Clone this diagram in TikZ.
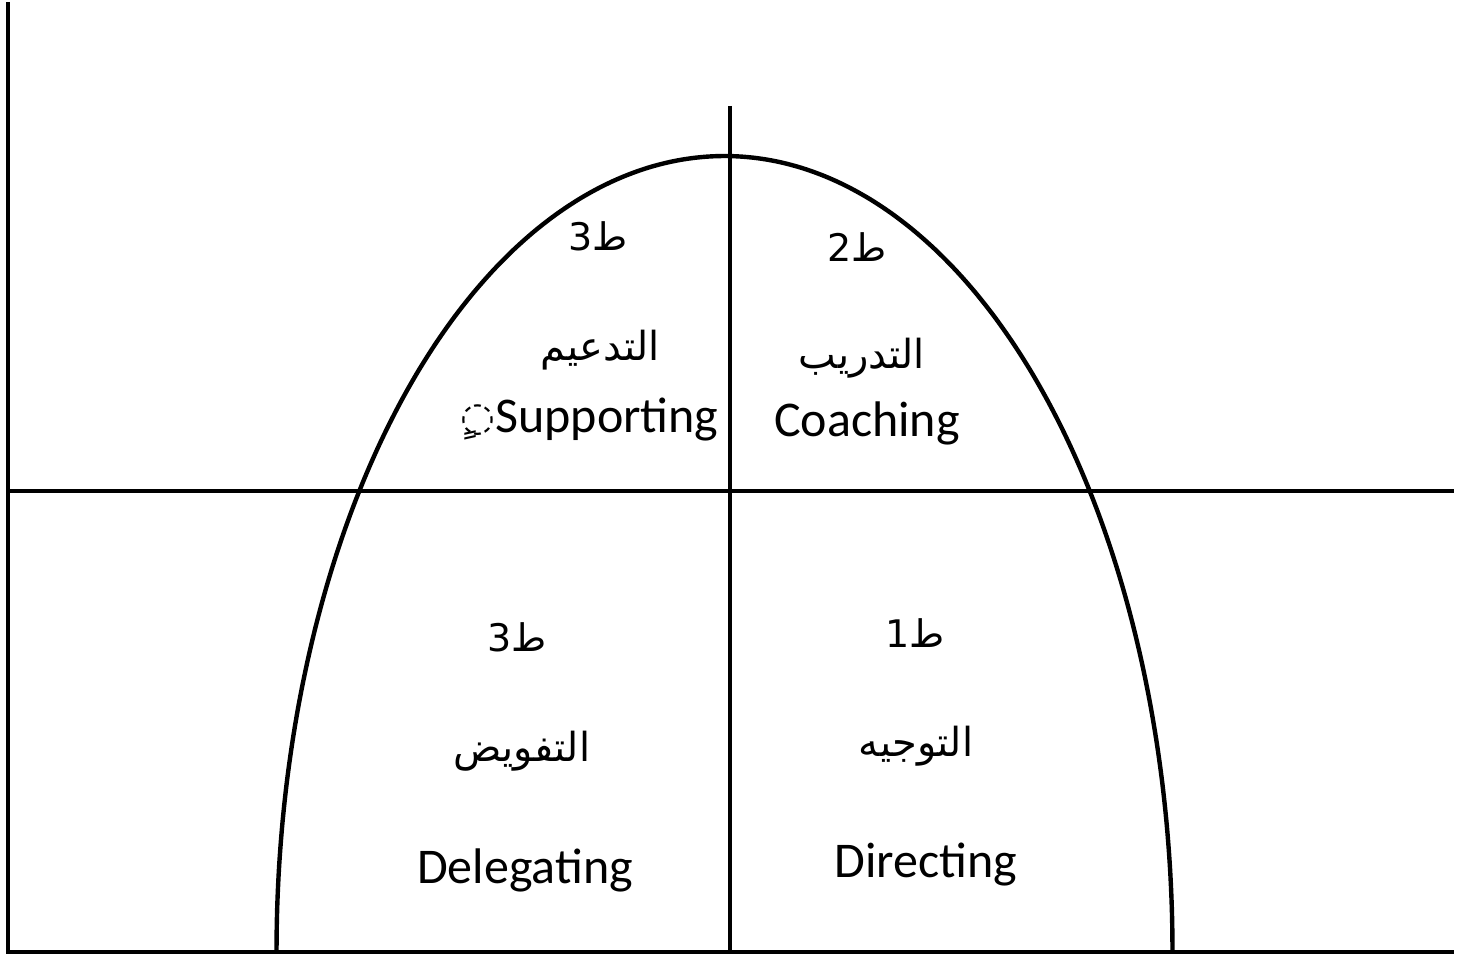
\documentclass[tikz,border=0pt]{standalone}
\usepackage{fontspec}
\setmainfont{Carlito}
\newfontfamily\arabicfont[Script=Arabic]{DejaVu Sans}
\TeXXeTstate=1
\begin{document}
\begin{tikzpicture}[x=0.5pt,y=-0.5pt,
  axis/.style={line width=2pt},
  midline/.style={line width=2pt},
  bell/.style={line width=2.2pt},
  en/.style={font=\fontsize{25}{30}\selectfont, inner sep=0pt},
  ar/.style={font=\fontsize{20}{24}\arabicfont, inner sep=0pt},
  lvl/.style={font=\fontsize{19}{23}\arabicfont, inner sep=0pt}]
\useasboundingbox (0,0) rectangle (1459,956);
% axes
\coordinate (ytop) at (8,2);
\coordinate (orig) at (8,952);
\coordinate (xend) at (1454,952);
\coordinate (mleft) at (8,491);
\coordinate (mright) at (1454,491);
\coordinate (vtop) at (730,106);
\coordinate (vbot) at (730,952);
\draw[axis] (ytop) -- (orig) -- (xend);
\draw[midline] (mleft) -- (mright);
\draw[midline] (vtop) -- (vbot);
% bell curve (half ellipse)
\draw[bell, line join=round] plot[domain=180:0, samples=120, smooth] ({724.5+448*cos(\x)}, {952-796*sin(\x)});
% quadrant labels
\node[lvl] (l3a) at (598,236) {\beginR ط3\endR};
\node[ar]  (a3a) at (600,350) {\beginR التدعيم\endR};
\node[en]  (e3a) at (607,420) {Supporting};
\node[font=\fontsize{20}{24}\arabicfont, inner sep=0pt] (mk) at (478,422) {◌ٍ};
\node[lvl] (l2) at (857,247) {\beginR ط2\endR};
\node[ar]  (a2) at (862,358) {\beginR التدريب\endR};
\node[en]  (e2) at (867,423) {Coaching};
\node[lvl] (l3b) at (517,637) {\beginR ط3\endR};
\node[ar]  (a3b) at (522,751) {\beginR التفويض\endR};
\node[en]  (e3b) at (525,870) {Delegating};
\node[lvl] (l1) at (915,633) {\beginR ط1\endR};
\node[ar]  (a1) at (916,746) {\beginR التوجيه\endR};
\node[en]  (e1) at (926,865) {Directing};
\end{tikzpicture}
\end{document}
